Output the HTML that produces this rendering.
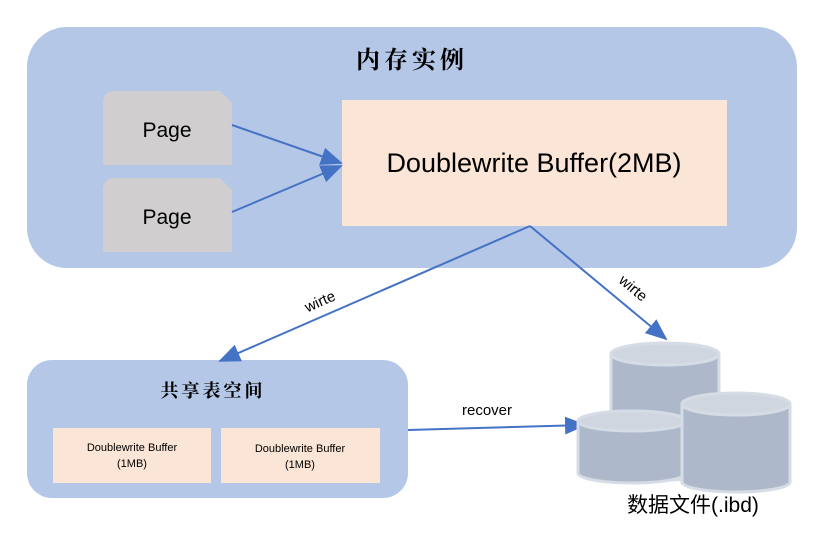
<!DOCTYPE html>
<html><head><meta charset="utf-8"><style>body{margin:0;background:#fff}svg{display:block}</style></head><body>
<svg width="823" height="542" xmlns="http://www.w3.org/2000/svg" font-family="Liberation Sans, Noto Sans CJK SC, sans-serif">
<defs>
<marker id="b" markerWidth="22" markerHeight="22" refX="20" refY="11" orient="auto" markerUnits="userSpaceOnUse" viewBox="0 0 22 22"><path d="M0,2L22,11L0,20z" fill="#4472c4"/></marker></defs>
<rect x="27" y="27" width="770" height="241" rx="40" fill="#b4c7e7"/>
<text x="412" y="68" text-anchor="middle" font-size="24" font-family="Noto Serif CJK SC, serif" font-weight="bold" letter-spacing="4">内存实例</text>
<path d="M115,91H220L232,103V165H103V103Q103,91 115,91z" fill="#d0cece"/>
<path d="M115,178H220L232,190V252H103V190Q103,178 115,178z" fill="#d0cece"/>
<text x="167" y="137" text-anchor="middle" font-size="21">Page</text>
<text x="167" y="224" text-anchor="middle" font-size="21">Page</text>
<rect x="342" y="100" width="385" height="126" fill="#fbe5d6"/>
<text x="534" y="172" text-anchor="middle" font-size="27">Doublewrite Buffer(2MB)</text>
<line x1="232" y1="125" x2="341" y2="163" stroke="#4472c4" stroke-width="2" marker-end="url(#b)"/>
<line x1="232" y1="212" x2="341" y2="166" stroke="#4472c4" stroke-width="2" marker-end="url(#b)"/>
<rect x="27" y="360" width="381" height="138" rx="25" fill="#b4c7e7"/>
<text x="213" y="397" text-anchor="middle" font-size="18" font-family="Noto Serif CJK SC, serif" font-weight="bold" letter-spacing="3">共享表空间</text>
<rect x="53" y="428" width="158" height="55" fill="#fbe5d6"/>
<rect x="221" y="428" width="159" height="55" fill="#fbe5d6"/>
<text x="132" y="451" text-anchor="middle" font-size="11">Doublewrite Buffer</text>
<text x="132" y="467" text-anchor="middle" font-size="11">(1MB)</text>
<text x="300" y="452" text-anchor="middle" font-size="11">Doublewrite Buffer</text>
<text x="300" y="468" text-anchor="middle" font-size="11">(1MB)</text>
<line x1="530" y1="226" x2="220" y2="361" stroke="#4472c4" stroke-width="2" marker-end="url(#b)"/>
<line x1="530" y1="226" x2="666" y2="339" stroke="#4472c4" stroke-width="2" marker-end="url(#b)"/>
<line x1="408" y1="430" x2="585" y2="425" stroke="#4472c4" stroke-width="2" marker-end="url(#b)"/>
<text x="322" y="306" font-size="15" transform="rotate(-24 322 306)" text-anchor="middle">wirte</text>
<text x="630" y="292" font-size="15" transform="rotate(40 630 292)" text-anchor="middle">wirte</text>
<text x="487" y="415" font-size="15" text-anchor="middle">recover</text>
<g stroke="#d6dce5" stroke-width="3" fill="#adb9ca">
<path d="M611,354V470A54,10 0 0 0 719,470V354"/><ellipse cx="665" cy="354" rx="54" ry="11" fill="#d0d6e0"/>
<path d="M578,421V473A54,10 0 0 0 686,473V421"/><ellipse cx="632" cy="421" rx="54" ry="10" fill="#d0d6e0"/>
<path d="M682,404V482A54,10 0 0 0 790,482V404"/><ellipse cx="736" cy="404" rx="54" ry="11" fill="#d0d6e0"/>
</g>
<text x="693" y="512" text-anchor="middle" font-size="21">数据文件(.ibd)</text>
</svg>
</body></html>
